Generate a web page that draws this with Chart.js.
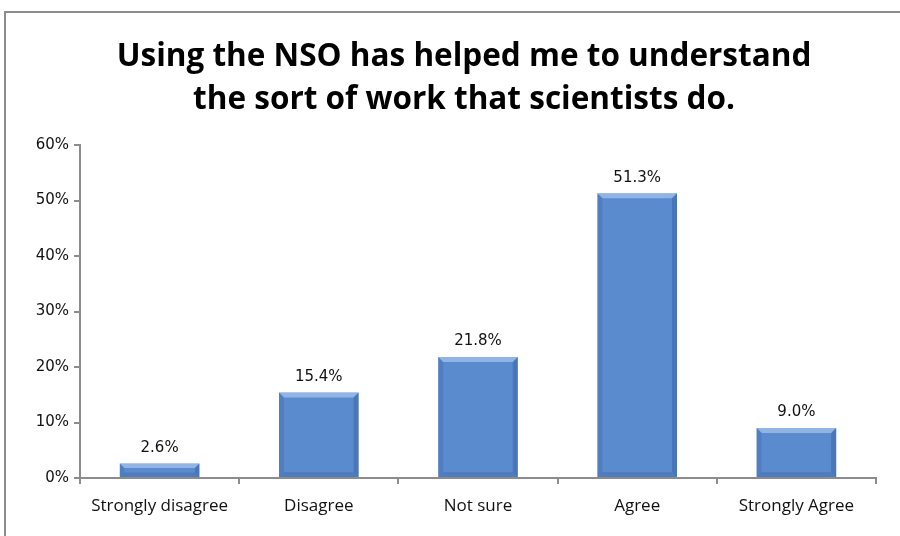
<!DOCTYPE html>
<html>
<head>
<meta charset="utf-8">
<script src="https://cdn.jsdelivr.net/npm/chart.js@4"></script>
<style>
html,body{margin:0;padding:0;background:#fff;overflow:hidden;}
#frame{position:absolute;left:4px;top:11px;width:1000px;height:700px;border:2px solid #8c8c8c;box-sizing:border-box;}
#c{position:absolute;left:0;top:0;}
</style>
</head>
<body>
<div id="frame"></div>
<canvas id="c" width="900" height="536"></canvas>
<script>
const categories = ["Strongly disagree", "Disagree", "Not sure", "Agree", "Strongly Agree"];
const values = [2.6, 15.4, 21.8, 51.3, 9.0];
const yTicks = [0, 10, 20, 30, 40, 50, 60];
const titleLines = ["Using the NSO has helped me to understand", "the sort of work that scientists do."];

const valueLabels = {
  id: 'valueLabels',
  afterDatasetsDraw(chart) {
    const ctx = chart.ctx;
    const meta = chart.getDatasetMeta(0);
    ctx.save();
    ctx.font = '15px "DejaVu Sans"';
    ctx.fillStyle = '#111';
    ctx.textAlign = 'center';
    ctx.textBaseline = 'bottom';
    meta.data.forEach((bar, i) => {
      ctx.fillText(values[i].toFixed(1) + '%', bar.x, bar.y - 8);
    });
    ctx.restore();
  }
};

const bevel = {
  id: 'bevel',
  afterDatasetsDraw(chart) {
    const ctx = chart.ctx;
    const meta = chart.getDatasetMeta(0);
    ctx.save();
    meta.data.forEach((bar) => {
      const w = bar.width, l = bar.x - w / 2, r = bar.x + w / 2, t = bar.y, b = bar.base;
      const e = Math.min(5, (b - t) / 3);
      ctx.fillStyle = 'rgba(190,215,245,0.55)';
      ctx.beginPath();
      ctx.moveTo(l, t); ctx.lineTo(r, t); ctx.lineTo(r - e, t + e); ctx.lineTo(l + e, t + e); ctx.closePath();
      ctx.fill();
      ctx.fillStyle = 'rgba(40,80,140,0.35)';
      ctx.beginPath();
      ctx.moveTo(r, t); ctx.lineTo(r, b); ctx.lineTo(r - e, b - e); ctx.lineTo(r - e, t + e); ctx.closePath();
      ctx.fill();
      ctx.fillStyle = 'rgba(40,80,140,0.25)';
      ctx.beginPath();
      ctx.moveTo(l, b); ctx.lineTo(r, b); ctx.lineTo(r - e, b - e); ctx.lineTo(l + e, b - e); ctx.closePath();
      ctx.fill();
      ctx.fillStyle = 'rgba(40,80,140,0.2)';
      ctx.beginPath();
      ctx.moveTo(l, t); ctx.lineTo(l, b); ctx.lineTo(l + e, b - e); ctx.lineTo(l + e, t + e); ctx.closePath();
      ctx.fill();
    });
    ctx.restore();
  }
};

new Chart(document.getElementById('c'), {
  type: 'bar',
  data: {
    labels: categories,
    datasets: [{
      data: values,
      backgroundColor: '#5b8bcf',
      borderWidth: 0,
      barPercentage: 0.5,
      categoryPercentage: 1.0
    }]
  },
  options: {
    responsive: false,
    animation: false,
    devicePixelRatio: 1,
    layout: { padding: { left: 28, right: 0, top: 0, bottom: 0 } },
    plugins: {
      legend: { display: false },
      tooltip: { enabled: false },
      title: {
        display: true,
        text: titleLines,
        color: '#000',
        font: { family: '"Open Sans"', size: 31.5, weight: 'bold', lineHeight: 1.35 },
        padding: { top: 36, bottom: 24 }
      }
    },
    scales: {
      x: {
        offset: true,
        grid: { display: true, drawOnChartArea: false, offset: true, tickLength: 6, color: '#8c8c8c', lineWidth: 2 },
        border: { display: true, color: '#8c8c8c', width: 2 },
        ticks: { color: '#111', font: { family: '"Open Sans"', size: 17 }, padding: 12, maxRotation: 0 },
        afterFit(s) { s.height = 58; }
      },
      y: {
        min: 0, max: 60,
        afterBuildTicks(s) { s.ticks = yTicks.map(v => ({ value: v })); },
        grid: { display: true, drawOnChartArea: false, tickLength: 6, color: '#8c8c8c', lineWidth: 2 },
        border: { display: true, color: '#8c8c8c', width: 2 },
        ticks: { color: '#111', font: { family: '"DejaVu Sans"', size: 15 }, padding: 5, callback: v => v + '%' },
        afterFit(s) { s.width = 52; }
      },
      yRight: {
        position: 'right',
        min: 0, max: 1,
        grid: { display: false },
        border: { display: false },
        ticks: { display: false },
        afterFit(s) { s.width = 24; }
      }
    }
  },
  plugins: [bevel, valueLabels]
});
</script>
</body>
</html>
